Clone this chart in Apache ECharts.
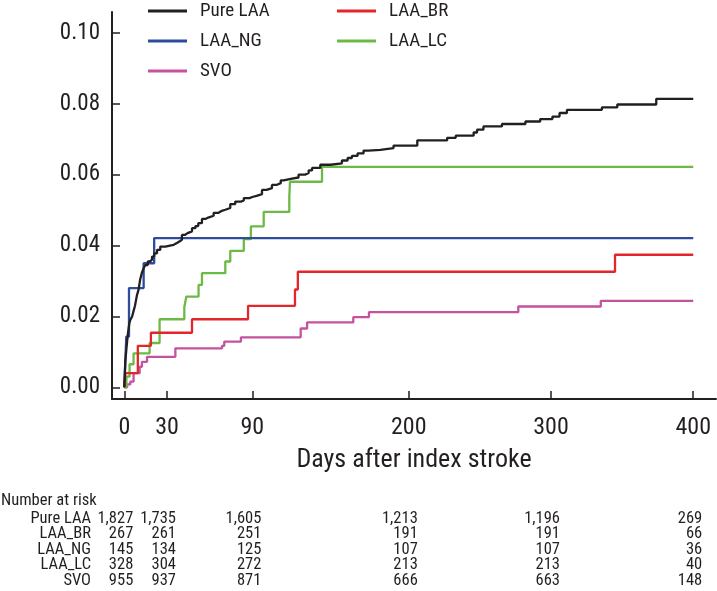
<!DOCTYPE html>
<html>
<head>
<meta charset="utf-8">
<script src="https://cdn.jsdelivr.net/npm/echarts@6/dist/echarts.min.js"></script>
<style>
html,body{margin:0;padding:0;background:#fff;}
#chart{width:717px;height:591px;}
</style>
</head>
<body>
<div id="chart"></div>
<script>
// ---------- data ----------
const xTicks = [0, 30, 90, 200, 300, 400];
const yTicks = [0, 0.02, 0.04, 0.06, 0.08, 0.10];
const seriesNames = ['Pure LAA', 'LAA_BR', 'LAA_NG', 'LAA_LC', 'SVO'];
const seriesColors = ['#231f20', '#e3262b', '#2d4c9e', '#6cb945', '#c4529f'];

const pureLAA = [[0,0],[0.3,0.003],[0.7,0.0072],[1.5,0.011],[2.5,0.015],[3.5,0.018],[4.2,0.019],[5.5,0.020],[6.5,0.0215],[7.5,0.023],[8.9,0.026],[10,0.0275],[11.2,0.0305],[12.5,0.0325],[13.5,0.0335],[14.8,0.0345],[16.5,0.0355],[18,0.036],[19.5,0.0369],[21,0.0378],[23,0.0388],[25.3,0.0397],[29,0.040],[32,0.0402],[34.7,0.0407],[37,0.0412],[39,0.0416],[40.5,0.043],[42.5,0.0435],[44.5,0.044],[47.6,0.0449],[50,0.0455],[52,0.0463],[54.6,0.0475],[57,0.0479],[59,0.0484],[62.8,0.0492],[66,0.0497],[68,0.0501],[71,0.0506],[74.5,0.0517],[78,0.0524],[82,0.0527],[84,0.0534],[88,0.0537],[90,0.054],[93,0.0545],[96.8,0.0557],[100,0.0562],[103.8,0.0571],[107,0.0576],[110,0.0584],[112,0.0588],[117,0.0592],[122.5,0.060],[127,0.0605],[129.6,0.0612],[132,0.0619],[137.8,0.0628],[145,0.0632],[153,0.064],[157,0.0647],[160,0.0653],[164,0.066],[168.2,0.0668],[171.7,0.067],[180,0.0675],[189.3,0.0682],[206,0.0697],[227,0.0704],[233,0.071],[245.6,0.0719],[248,0.0727],[252.5,0.0736],[265.5,0.0743],[282,0.075],[292.4,0.0757],[301,0.0764],[306,0.0774],[311.2,0.0783],[335.8,0.079],[346.6,0.0798],[374,0.0814],[400,0.0814]];
const laaBR = [[0,0],[0.8,0.004],[9.5,0.0117],[18.7,0.0154],[47.6,0.0192],[87,0.023],[120,0.0276],[122,0.0326],[345,0.0374],[400,0.0374]];
const laaNG = [[0,0],[1.4,0.0143],[3.3,0.028],[13.6,0.035],[21,0.0421],[400,0.0421]];
const laaLC = [[0,0],[1.5,0.003],[3.7,0.0065],[6.5,0.0096],[17.8,0.0125],[24.8,0.0192],[42.2,0.0226],[43.6,0.0256],[52.2,0.0289],[54.6,0.0322],[71,0.0355],[74.5,0.0385],[84,0.0418],[89,0.0454],[98,0.0495],[116,0.0537],[116.5,0.058],[139,0.0622],[400,0.0622]];
const svo = [[0,0],[2,0.0008],[4.2,0.0016],[6.5,0.004],[10.8,0.0058],[12.4,0.0072],[16,0.0086],[35.9,0.011],[68.7,0.0117],[70.3,0.0129],[82,0.0141],[124,0.0166],[128.5,0.0183],[161,0.0198],[172,0.0212],[277,0.0228],[335,0.0244],[400,0.0244]];

const riskTitle = 'Number at risk';
const riskPureLAA = [1827, 1735, 1605, 1213, 1196, 269];
const riskBR = [267, 261, 251, 191, 191, 66];
const riskNG = [145, 134, 125, 107, 107, 36];
const riskLC = [328, 304, 272, 213, 213, 40];
const riskSVO = [955, 937, 871, 666, 663, 148];

// ---------- chart ----------
const FONT = "'Liberation Sans Narrow', 'Roboto Condensed', 'DejaVu Sans Condensed', 'Liberation Sans', sans-serif";
const INK = '#231f20';
const seriesData = [pureLAA, laaBR, laaNG, laaLC, svo];
const chart = echarts.init(document.getElementById('chart'), null, {renderer: 'canvas'});

const legendCommon = {
  orient: 'vertical', icon: 'rect', itemWidth: 39, itemHeight: 3, itemGap: 10, padding: 0, top: 1,
  selectedMode: false,
  textStyle: {fontFamily: FONT, fontSize: 19, color: INK, lineHeight: 20, padding: [0, 0, 0, 8]}
};

chart.setOption({
  animation: false,
  backgroundColor: '#fff',
  textStyle: {fontFamily: FONT},
  grid: {left: 112, right: 1, top: 12, bottom: 192, containLabel: false, outerBoundsMode: 'none'},
  legend: [
    Object.assign({}, legendCommon, {left: 148, data: [seriesNames[0], seriesNames[2], seriesNames[4]]}),
    Object.assign({}, legendCommon, {left: 337, data: [seriesNames[1], seriesNames[3]]})
  ],
  xAxis: {
    type: 'value', min: -8.65, max: 416,
    name: 'Days after index stroke', nameLocation: 'middle', nameGap: 48,
    nameTextStyle: {fontFamily: FONT, fontSize: 26, color: INK},
    splitLine: {show: false},
    axisLine: {show: true, onZero: false, lineStyle: {color: INK, width: 2}},
    axisTick: {show: true, inside: true, length: 8, lineStyle: {color: INK, width: 1.5}, customValues: xTicks},
    axisLabel: {show: true, margin: 17, fontFamily: FONT, fontSize: 24, color: INK, customValues: xTicks,
      formatter: v => String(v)}
  },
  yAxis: {
    type: 'value', min: -0.0033, max: 0.1059,
    splitLine: {show: false},
    axisLine: {show: true, onZero: false, lineStyle: {color: INK, width: 2}},
    axisTick: {show: true, inside: true, length: 8, lineStyle: {color: INK, width: 1.5}, customValues: yTicks},
    axisLabel: {show: true, margin: 12, fontFamily: FONT, fontSize: 23, color: INK, customValues: yTicks,
      formatter: v => v.toFixed(2)}
  },
  series: seriesNames.map((n, i) => ({
    name: n, type: 'line', step: 'end', data: seriesData[i], showSymbol: false, symbol: 'none',
    color: seriesColors[i],
    lineStyle: {color: seriesColors[i], width: 2.3},
    z: 10 - i
  }))
});

// number-at-risk table placed on the x scale
const riskRows = [riskPureLAA, riskBR, riskNG, riskLC, riskSVO];
const rowY = [518.5, 534, 549.5, 565, 580.5];
const g = [];
g.push({type: 'text', x: 1, y: 501, style: {text: riskTitle, font: '16.5px ' + FONT, fill: INK, verticalAlign: 'middle'}});
riskRows.forEach((row, r) => {
  g.push({type: 'text', x: 91, y: rowY[r], style: {text: seriesNames[r], font: '16.5px ' + FONT, fill: INK, align: 'right', verticalAlign: 'middle'}});
  row.forEach((v, c) => {
    const px = chart.convertToPixel({xAxisIndex: 0}, xTicks[c]);
    g.push({type: 'text', x: px + 9, y: rowY[r], style: {text: v.toLocaleString('en-US'), font: '16.5px ' + FONT, fill: INK, align: 'right', verticalAlign: 'middle'}});
  });
});
chart.setOption({graphic: g});
</script>
</body>
</html>
